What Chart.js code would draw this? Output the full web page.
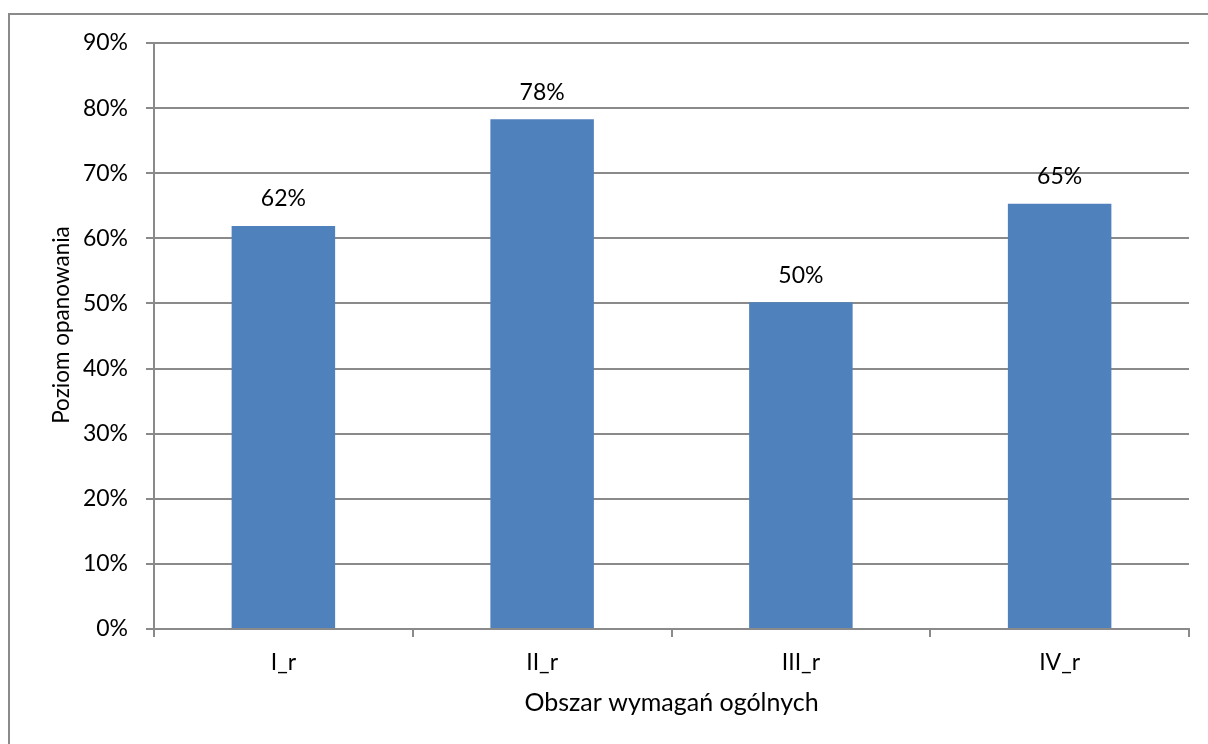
<!DOCTYPE html>
<html>
<head>
<meta charset="utf-8">
<script src="https://cdn.jsdelivr.net/npm/chart.js@4"></script>
<style>
  html, body { margin: 0; padding: 0; background: #fff; }
  #wrap { width: 1208px; height: 744px; position: relative; }
</style>
</head>
<body>
<div id="wrap"><canvas id="wykres"></canvas></div>
<script>
// dane
const obszary = ["I_r", "II_r", "III_r", "IV_r"];
const poziom = [0.619, 0.783, 0.502, 0.653];
const etykiety = ["62%", "78%", "50%", "65%"];
const tytulY = "Poziom opanowania";

const czcionka = "Lato, 'Liberation Sans', sans-serif";
const szary = "#8a8a8a";

// ramka wokol calego wykresu, tytul osi Y i etykiety nad slupkami
const dodatki = {
  id: "dodatki",
  beforeDraw(chart) {
    const ctx = chart.ctx;
    ctx.save();
    ctx.strokeStyle = szary;
    ctx.lineWidth = 2;
    ctx.strokeRect(9, 14, 1220, 760);
    // tytul osi Y (w oryginale troche powyzej srodka)
    ctx.translate(62, chart.chartArea.top + (chart.chartArea.bottom - chart.chartArea.top) / 2 - 11);
    ctx.rotate(-Math.PI / 2);
    ctx.fillStyle = "#000";
    ctx.font = "22.5px " + czcionka;
    ctx.textAlign = "center";
    ctx.textBaseline = "middle";
    ctx.fillText(tytulY, 0, 0);
    ctx.restore();
  },
  afterDatasetsDraw(chart) {
    const ctx = chart.ctx;
    const meta = chart.getDatasetMeta(0);
    ctx.save();
    ctx.fillStyle = "#000";
    ctx.font = "23px " + czcionka;
    ctx.textAlign = "center";
    ctx.textBaseline = "middle";
    meta.data.forEach((bar, i) => {
      ctx.fillText(etykiety[i], bar.x, bar.y - 27);
    });
    ctx.restore();
  }
};

new Chart(document.getElementById("wykres"), {
  type: "bar",
  data: {
    labels: obszary,
    datasets: [{
      data: poziom,
      backgroundColor: "#4F81BD",
      borderWidth: 0,
      barPercentage: 0.4,
      categoryPercentage: 1
    }]
  },
  options: {
    responsive: true,
    maintainAspectRatio: false,
    animation: false,
    layout: { padding: { left: 0, right: 19, top: 43, bottom: 26 } },
    plugins: { legend: { display: false }, tooltip: { enabled: false } },
    scales: {
      x: {
        offset: true,
        grid: { offset: true, drawOnChartArea: false, color: szary, lineWidth: 2, tickLength: 8 },
        border: { color: szary, width: 2 },
        ticks: { color: "#000", font: { family: czcionka, size: 23 }, padding: 12 },
        title: { display: true, text: "Obszar wymagań ogólnych", color: "#000",
                 font: { family: czcionka, size: 25 }, padding: 0 },
        afterFit(s) { s.height = 744 - 629 - 26; }
      },
      y: {
        min: 0,
        max: 0.9,
        grid: { color: szary, lineWidth: 2, tickLength: 8 },
        border: { color: szary, width: 2 },
        ticks: {
          stepSize: 0.1,
          color: "#000",
          font: { family: czcionka, size: 23 },
          padding: 18,
          callback: v => Math.round(v * 100) + "%"
        },
        afterFit(s) { s.width = 154; }
      }
    }
  },
  plugins: [dodatki]
});
</script>
</body>
</html>
